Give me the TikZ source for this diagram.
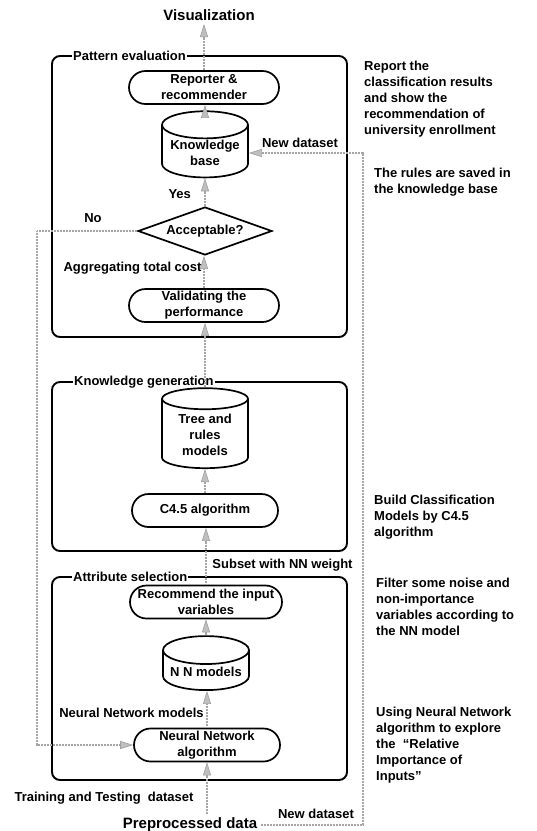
\documentclass[tikz,border=0pt]{standalone}
\usepackage{fontspec}
\setmainfont{Liberation Sans}
\usetikzlibrary{shapes.geometric, shapes.misc, arrows.meta, positioning}
\tikzset{
x=1pt, y=-1pt, % one unit is one pixel of the layout, y runs downward
every node/.style={font=\bfseries\fontsize{13}{16}\selectfont, align=center}, % bold sans text everywhere
big/.style={font=\bfseries\fontsize{15}{18}\selectfont}, % input and output labels
proc/.style={rounded rectangle, draw, line width=1.7pt, minimum height=33pt, inner sep=1pt}, % process steps
store/.style={cylinder, shape border rotate=90, aspect=0.38, draw, line width=1.7pt, minimum width=86pt, inner sep=1pt}, % model stores
decide/.style={diamond, draw, line width=1.7pt, aspect=2.8, minimum width=134pt, minimum height=48pt, inner sep=0pt}, % decision
frame/.style={draw, line width=1.9pt, rounded corners=8pt}, % stage frames
frametitle/.style={fill=white, inner sep=1pt, anchor=west}, % stage names on the frame
flow/.style={draw=gray!70, line width=1.5pt, dash pattern=on 1pt off 0.5pt, -{Triangle[length=13pt, width=8pt, fill=gray!50, color=gray!75, line width=0.6pt]}}, % data flow
note/.style={anchor=north west, inner sep=0pt, align=left}, % comments on the right
}

\begin{document}
\begin{tikzpicture}
\useasboundingbox (0,0) rectangle (537,831);

% stage frames
\draw[frame] (52,56) rectangle (347,337);
\draw[frame] (52,382) rectangle (347,551);
\draw[frame] (52,577) rectangle (347,780);
\node[frametitle] (pe) at (72,56) {Pattern evaluation};
\node[frametitle] (kg) at (73,382) {Knowledge generation};
\node[frametitle] (as) at (72,577) {Attribute selection};

% pattern evaluation
\node[big] (vis) at (209,15) {Visualization};
\node[proc, minimum width=152pt] (rep) at (204,87.5) {Reporter \&\\recommender};
\node[store, minimum height=56pt] (kb) at (205,153) {Knowledge\\base};
\node[decide] (acc) at (205,231) {Acceptable?};
\node[proc, minimum width=152pt] (val) at (204,305.5) {Validating the\\performance};

% knowledge generation
\node[store, minimum height=80pt] (trm) at (205,435) {Tree and\\rules\\models};
\node[proc, minimum width=148pt] (c45) at (205,510.5) {C4.5 algorithm};

% attribute selection
\node[proc, minimum width=154pt] (rec) at (206,602) {Recommend the input\\variables};
\node[store, minimum height=54pt] (nnm) at (206,672) {N N models};
\node[proc, minimum width=148pt] (nna) at (207,745) {Neural Network\\algorithm};
\node[big] (pre) at (190,825) {Preprocessed data};

% comments
\node[note] (n1) at (364,61) {Report the\\classification results\\and show the\\recommendation of\\university enrollment};
\node[note] (n2) at (374,168) {The rules are saved in\\the knowledge base};
\node[note] (n3) at (374,495) {Build Classification\\Models by C4.5\\algorithm};
\node[note] (n4) at (376,578) {Filter some noise and\\non-importance\\variables according to\\the NN model};
\node[note] (n5) at (376,707) {Using Neural Network\\algorithm to explore\\the\ \ “Relative\\Importance of\\Inputs”};

% flows
\coordinate (noback) at (37,231);
\coordinate (ndturn) at (363,825);
\draw[flow] (rep.north) -- (rep.north |- vis.south);
\draw[flow] (kb.north) -- (kb.north |- rep.south);
\draw[flow] (acc.north) -- (acc.north |- kb.south) node[pos=0.45, left=10pt] (yes) {Yes};
\draw[flow] (val.north) -- (val.north |- acc.south);
\draw[flow] (trm.north) -- (trm.north |- val.south);
\draw[flow] (c45.north) -- (c45.north |- trm.south);
\draw[flow] (rec.north) -- (rec.north |- c45.south);
\draw[flow] (nnm.north) -- (nnm.north |- rec.south);
\draw[flow] (nna.north) -- (nna.north |- nnm.south);
\draw[flow] (pre.north -| nna.south) -- (nna.south);
\draw[flow] (acc.west) -- (noback) |- (nna.west);
\draw[flow] (pre.east) -- (ndturn) |- (kb.east);

% flow labels
\node (no) at (93,218) {No};
\node (agg) at (132.5,268) {Aggregating total cost};
\node (sub) at (282.5,565) {Subset with NN weight};
\node (nnl) at (131.5,713) {Neural Network models};
\node (trt) at (104,798) {Training and Testing\ \ dataset};
\node (nd1) at (300,143) {New dataset};
\node (nd2) at (316,814) {New dataset};
\end{tikzpicture}
\end{document}
